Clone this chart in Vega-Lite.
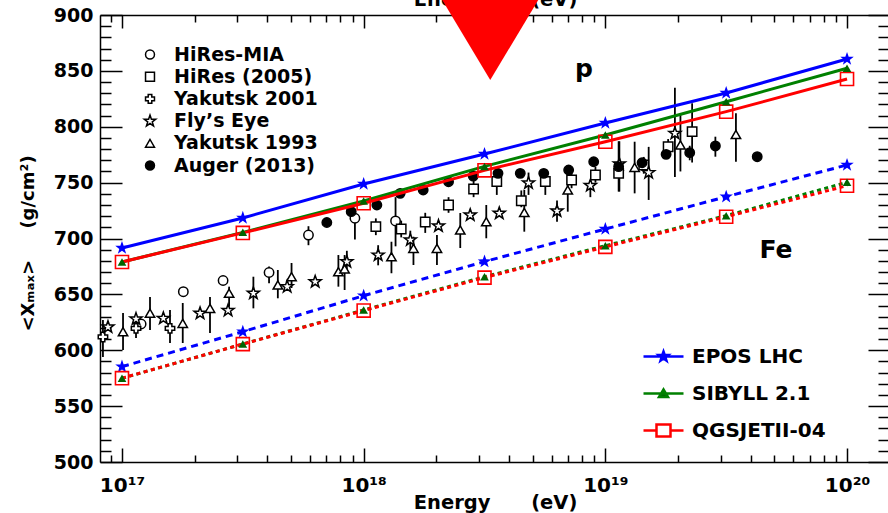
{
  "$schema": "https://vega.github.io/schema/vega-lite/v6.json",
  "width": 790,
  "height": 447,
  "autosize": {"type": "none"},
  "padding": {"left": 100, "top": 15, "right": 0, "bottom": 51},
  "background": "white",
  "config": {
    "view": {"stroke": null},
    "font": "DejaVu Sans",
    "axis": {
      "grid": false,
      "domainColor": "black",
      "domainWidth": 1.5,
      "tickColor": "black",
      "tickWidth": 1.5,
      "labelColor": "black",
      "titleColor": "black",
      "labelFont": "DejaVu Sans",
      "labelFontWeight": "bold",
      "titleFont": "DejaVu Sans",
      "titleFontWeight": "bold"
    }
  },
  "datasets": {
    "obs": [
      {"dataset": "HiRes-MIA", "E": 1.2e17, "Xmax": 623.5},
      {"dataset": "HiRes-MIA", "E": 1.794e17, "Xmax": 652.4},
      {"dataset": "HiRes-MIA", "E": 2.62e17, "Xmax": 662.4},
      {"dataset": "HiRes-MIA", "E": 4.06e17, "Xmax": 669.6, "lo": 660, "hi": 675},
      {"dataset": "HiRes-MIA", "E": 5.91e17, "Xmax": 703.1, "lo": 694, "hi": 711},
      {"dataset": "HiRes-MIA", "E": 9.2e17, "Xmax": 718.1, "lo": 699, "hi": 726},
      {"dataset": "HiRes-MIA", "E": 1.355e18, "Xmax": 715.7, "lo": 693, "hi": 737},
      {"dataset": "HiRes (2005)", "E": 1.123e18, "Xmax": 710.6, "lo": 703, "hi": 718},
      {"dataset": "HiRes (2005)", "E": 1.43e18, "Xmax": 708.5, "lo": 701, "hi": 716},
      {"dataset": "HiRes (2005)", "E": 1.798e18, "Xmax": 714.8, "lo": 705, "hi": 723},
      {"dataset": "HiRes (2005)", "E": 2.245e18, "Xmax": 730.0, "lo": 723, "hi": 737},
      {"dataset": "HiRes (2005)", "E": 2.85e18, "Xmax": 744.3, "lo": 737, "hi": 752},
      {"dataset": "HiRes (2005)", "E": 3.555e18, "Xmax": 751.0, "lo": 739, "hi": 760},
      {"dataset": "HiRes (2005)", "E": 4.49e18, "Xmax": 733.8, "lo": 728, "hi": 743},
      {"dataset": "HiRes (2005)", "E": 5.645e18, "Xmax": 751.0, "lo": 739, "hi": 760},
      {"dataset": "HiRes (2005)", "E": 7.25e18, "Xmax": 752.3, "lo": 745, "hi": 760},
      {"dataset": "HiRes (2005)", "E": 9.1e18, "Xmax": 756.8, "lo": 750, "hi": 764},
      {"dataset": "HiRes (2005)", "E": 1.135e19, "Xmax": 758.3, "lo": 742, "hi": 787},
      {"dataset": "HiRes (2005)", "E": 1.442e19, "Xmax": 765.8, "lo": 758, "hi": 773},
      {"dataset": "HiRes (2005)", "E": 1.819e19, "Xmax": 782.1, "lo": 775, "hi": 789},
      {"dataset": "HiRes (2005)", "E": 2.286e19, "Xmax": 795.6, "lo": 768, "hi": 821},
      {"dataset": "Yakutsk 2001", "E": 8.34e16, "Xmax": 611.9, "lo": 594, "hi": 627},
      {"dataset": "Yakutsk 2001", "E": 1.143e17, "Xmax": 619.6, "lo": 611, "hi": 632},
      {"dataset": "Yakutsk 2001", "E": 1.58e17, "Xmax": 619.6, "lo": 606.5, "hi": 636},
      {"dataset": "Fly’s Eye", "E": 8.75e16, "Xmax": 620.8},
      {"dataset": "Fly’s Eye", "E": 1.143e17, "Xmax": 628.0},
      {"dataset": "Fly’s Eye", "E": 1.483e17, "Xmax": 628.6},
      {"dataset": "Fly’s Eye", "E": 2.104e17, "Xmax": 633.1},
      {"dataset": "Fly’s Eye", "E": 2.748e17, "Xmax": 635.6},
      {"dataset": "Fly’s Eye", "E": 3.497e17, "Xmax": 651.0, "lo": 637.5, "hi": 665.8},
      {"dataset": "Fly’s Eye", "E": 4.824e17, "Xmax": 656.9},
      {"dataset": "Fly’s Eye", "E": 6.3e17, "Xmax": 661.3},
      {"dataset": "Fly’s Eye", "E": 8.52e17, "Xmax": 679.2, "lo": 670, "hi": 689},
      {"dataset": "Fly’s Eye", "E": 1.148e18, "Xmax": 685.2, "lo": 676, "hi": 694},
      {"dataset": "Fly’s Eye", "E": 1.56e18, "Xmax": 698.7, "lo": 690, "hi": 707},
      {"dataset": "Fly’s Eye", "E": 2.04e18, "Xmax": 711.2},
      {"dataset": "Fly’s Eye", "E": 2.76e18, "Xmax": 721.0},
      {"dataset": "Fly’s Eye", "E": 3.64e18, "Xmax": 722.6},
      {"dataset": "Fly’s Eye", "E": 4.81e18, "Xmax": 749.7, "lo": 739, "hi": 759},
      {"dataset": "Fly’s Eye", "E": 6.31e18, "Xmax": 724.6, "lo": 715, "hi": 734},
      {"dataset": "Fly’s Eye", "E": 8.67e18, "Xmax": 747.4, "lo": 737, "hi": 752},
      {"dataset": "Fly’s Eye", "E": 1.143e19, "Xmax": 766.7, "lo": 742, "hi": 787},
      {"dataset": "Fly’s Eye", "E": 1.511e19, "Xmax": 758.9, "lo": 734.5, "hi": 782},
      {"dataset": "Fly’s Eye", "E": 1.94e19, "Xmax": 794.1, "lo": 755, "hi": 835},
      {"dataset": "Yakutsk 1993", "E": 1.01e17, "Xmax": 616.6, "lo": 600.2, "hi": 633.3},
      {"dataset": "Yakutsk 1993", "E": 1.306e17, "Xmax": 633.1, "lo": 618.1, "hi": 647.7},
      {"dataset": "Yakutsk 1993", "E": 1.784e17, "Xmax": 624.1, "lo": 606.5, "hi": 642.3},
      {"dataset": "Yakutsk 1993", "E": 2.313e17, "Xmax": 637.5, "lo": 615.4, "hi": 647.7},
      {"dataset": "Yakutsk 1993", "E": 2.775e17, "Xmax": 651.0, "lo": 639, "hi": 656.9},
      {"dataset": "Yakutsk 1993", "E": 4.414e17, "Xmax": 658.4, "lo": 646.5, "hi": 671.8},
      {"dataset": "Yakutsk 1993", "E": 5.03e17, "Xmax": 665.8, "lo": 655.7, "hi": 678.1},
      {"dataset": "Yakutsk 1993", "E": 7.86e17, "Xmax": 670.3, "lo": 656.9, "hi": 685.2},
      {"dataset": "Yakutsk 1993", "E": 8.34e17, "Xmax": 672.7, "lo": 653.9, "hi": 685.2},
      {"dataset": "Yakutsk 1993", "E": 1.303e18, "Xmax": 683.7, "lo": 668.9, "hi": 697.1},
      {"dataset": "Yakutsk 1993", "E": 1.607e18, "Xmax": 691.2, "lo": 676.3, "hi": 701.6},
      {"dataset": "Yakutsk 1993", "E": 2.01e18, "Xmax": 691.2, "lo": 676.3, "hi": 703.1},
      {"dataset": "Yakutsk 1993", "E": 2.51e18, "Xmax": 707.6, "lo": 691.5, "hi": 722.8},
      {"dataset": "Yakutsk 1993", "E": 3.216e18, "Xmax": 715.0, "lo": 700.2, "hi": 730},
      {"dataset": "Yakutsk 1993", "E": 4.62e18, "Xmax": 723.3, "lo": 706.1, "hi": 743.4},
      {"dataset": "Yakutsk 1993", "E": 6.99e18, "Xmax": 743.4, "lo": 724, "hi": 764.3},
      {"dataset": "Yakutsk 1993", "E": 1.322e19, "Xmax": 763.7, "lo": 740.4, "hi": 786.6},
      {"dataset": "Yakutsk 1993", "E": 2.045e19, "Xmax": 783.7, "lo": 760, "hi": 812},
      {"dataset": "Yakutsk 1993", "E": 3.47e19, "Xmax": 793.1, "lo": 768.7, "hi": 812},
      {"dataset": "Auger (2013)", "E": 7.04e17, "Xmax": 714.3},
      {"dataset": "Auger (2013)", "E": 8.88e17, "Xmax": 724.0},
      {"dataset": "Auger (2013)", "E": 1.134e18, "Xmax": 730.0},
      {"dataset": "Auger (2013)", "E": 1.416e18, "Xmax": 740.4},
      {"dataset": "Auger (2013)", "E": 1.763e18, "Xmax": 743.4},
      {"dataset": "Auger (2013)", "E": 2.245e18, "Xmax": 750.8},
      {"dataset": "Auger (2013)", "E": 2.84e18, "Xmax": 755.9},
      {"dataset": "Auger (2013)", "E": 3.596e18, "Xmax": 758.3},
      {"dataset": "Auger (2013)", "E": 4.446e18, "Xmax": 758.3},
      {"dataset": "Auger (2013)", "E": 5.56e18, "Xmax": 758.3},
      {"dataset": "Auger (2013)", "E": 7.05e18, "Xmax": 761.3},
      {"dataset": "Auger (2013)", "E": 8.95e18, "Xmax": 768.7},
      {"dataset": "Auger (2013)", "E": 1.135e19, "Xmax": 764.3},
      {"dataset": "Auger (2013)", "E": 1.419e19, "Xmax": 767.8},
      {"dataset": "Auger (2013)", "E": 1.784e19, "Xmax": 775.3},
      {"dataset": "Auger (2013)", "E": 2.234e19, "Xmax": 776.8, "lo": 770, "hi": 783},
      {"dataset": "Auger (2013)", "E": 2.853e19, "Xmax": 782.8, "lo": 773.2, "hi": 791.1},
      {"dataset": "Auger (2013)", "E": 4.25e19, "Xmax": 773.2}
    ],
    "models": [
      {"model": "EPOS LHC", "comp": "p", "E": 1e17, "Xmax": 691.5},
      {"model": "EPOS LHC", "comp": "p", "E": 3.1623e17, "Xmax": 718.4},
      {"model": "EPOS LHC", "comp": "p", "E": 1e18, "Xmax": 748.8},
      {"model": "EPOS LHC", "comp": "p", "E": 3.1623e18, "Xmax": 775.6},
      {"model": "EPOS LHC", "comp": "p", "E": 1e19, "Xmax": 803.4},
      {"model": "EPOS LHC", "comp": "p", "E": 3.1623e19, "Xmax": 830.2},
      {"model": "EPOS LHC", "comp": "p", "E": 1e20, "Xmax": 860.6},
      {"model": "SIBYLL 2.1", "comp": "p", "E": 1e17, "Xmax": 679.0},
      {"model": "SIBYLL 2.1", "comp": "p", "E": 3.1623e17, "Xmax": 705.5},
      {"model": "SIBYLL 2.1", "comp": "p", "E": 1e18, "Xmax": 733.5},
      {"model": "SIBYLL 2.1", "comp": "p", "E": 3.1623e18, "Xmax": 764.5},
      {"model": "SIBYLL 2.1", "comp": "p", "E": 1e19, "Xmax": 792.6},
      {"model": "SIBYLL 2.1", "comp": "p", "E": 3.1623e19, "Xmax": 822.4},
      {"model": "SIBYLL 2.1", "comp": "p", "E": 1e20, "Xmax": 852.3},
      {"model": "QGSJETII-04", "comp": "p", "E": 1e17, "Xmax": 679.0},
      {"model": "QGSJETII-04", "comp": "p", "E": 3.1623e17, "Xmax": 705.0},
      {"model": "QGSJETII-04", "comp": "p", "E": 1e18, "Xmax": 731.5},
      {"model": "QGSJETII-04", "comp": "p", "E": 3.1623e18, "Xmax": 761.0},
      {"model": "QGSJETII-04", "comp": "p", "E": 1e19, "Xmax": 786.6},
      {"model": "QGSJETII-04", "comp": "p", "E": 3.1623e19, "Xmax": 813.5},
      {"model": "QGSJETII-04", "comp": "p", "E": 1e20, "Xmax": 842.7},
      {"model": "EPOS LHC", "comp": "Fe", "E": 1e17, "Xmax": 585.3},
      {"model": "EPOS LHC", "comp": "Fe", "E": 3.1623e17, "Xmax": 616.6},
      {"model": "EPOS LHC", "comp": "Fe", "E": 1e18, "Xmax": 648.8},
      {"model": "EPOS LHC", "comp": "Fe", "E": 3.1623e18, "Xmax": 679.3},
      {"model": "EPOS LHC", "comp": "Fe", "E": 1e19, "Xmax": 708.5},
      {"model": "EPOS LHC", "comp": "Fe", "E": 3.1623e19, "Xmax": 737.4},
      {"model": "EPOS LHC", "comp": "Fe", "E": 1e20, "Xmax": 765.8},
      {"model": "SIBYLL 2.1", "comp": "Fe", "E": 1e17, "Xmax": 574.9},
      {"model": "SIBYLL 2.1", "comp": "Fe", "E": 3.1623e17, "Xmax": 605.6},
      {"model": "SIBYLL 2.1", "comp": "Fe", "E": 1e18, "Xmax": 636.0},
      {"model": "SIBYLL 2.1", "comp": "Fe", "E": 3.1623e18, "Xmax": 665.8},
      {"model": "SIBYLL 2.1", "comp": "Fe", "E": 1e19, "Xmax": 693.6},
      {"model": "SIBYLL 2.1", "comp": "Fe", "E": 3.1623e19, "Xmax": 720.4},
      {"model": "SIBYLL 2.1", "comp": "Fe", "E": 1e20, "Xmax": 750.3},
      {"model": "QGSJETII-04", "comp": "Fe", "E": 1e17, "Xmax": 575.0},
      {"model": "QGSJETII-04", "comp": "Fe", "E": 3.1623e17, "Xmax": 605.5},
      {"model": "QGSJETII-04", "comp": "Fe", "E": 1e18, "Xmax": 635.5},
      {"model": "QGSJETII-04", "comp": "Fe", "E": 3.1623e18, "Xmax": 665.0},
      {"model": "QGSJETII-04", "comp": "Fe", "E": 1e19, "Xmax": 692.5},
      {"model": "QGSJETII-04", "comp": "Fe", "E": 3.1623e19, "Xmax": 719.5},
      {"model": "QGSJETII-04", "comp": "Fe", "E": 1e20, "Xmax": 747.2}
    ],
    "notes": [
      {"label": "p", "E": 8.15e18, "Xmax": 844.5},
      {"label": "Fe", "E": 5.08e19, "Xmax": 682.3}
    ],
    "marker": [
      {"E": 3.34e18, "Xmax": 882.1}
    ]
  },
  "layer": [
    {
      "data": {"name": "obs"},
      "transform": [{"filter": "datum.lo != null"}],
      "mark": {"type": "rule", "color": "black", "strokeWidth": 1.8},
      "encoding": {
        "x": {
          "field": "E", "type": "quantitative",
          "scale": {"type": "log", "domain": [8.11e16, 1.506e20], "nice": false},
          "axis": {
            "orient": "bottom",
            "values": [9e16, 1e17, 2e17, 3e17, 4e17, 5e17, 6e17, 7e17, 8e17, 9e17, 1e18, 2e18, 3e18, 4e18, 5e18, 6e18, 7e18, 8e18, 9e18, 1e19, 2e19, 3e19, 4e19, 5e19, 6e19, 7e19, 8e19, 9e19, 1e20],
            "tickSize": {"condition": {"test": "abs(log(datum.value)/LN10 - round(log(datum.value)/LN10)) < 0.001", "value": -14}, "value": -7},
            "labelExpr": "abs(log(datum.value)/LN10 - round(log(datum.value)/LN10)) > 0.001 ? '' : '10' + ['¹⁷','¹⁸','¹⁹','²⁰'][round(log(datum.value)/LN10) - 17]",
            "labelFontSize": 20,
            "labelPadding": 43,
            "labelBaseline": "alphabetic",
            "labelFlush": false,
            "labelOverlap": false,
            "title": "Energy\u00a0\u00a0\u00a0\u00a0\u00a0\u00a0(eV)",
            "titleFontSize": 19.5,
            "titleY": 46,
            "titleBaseline": "alphabetic"
          }
        },
        "y": {
          "field": "lo", "type": "quantitative",
          "scale": {"domain": [500, 900], "nice": false, "zero": false},
          "axis": {
            "orient": "left",
            "values": [500, 510, 520, 530, 540, 550, 560, 570, 580, 590, 600, 610, 620, 630, 640, 650, 660, 670, 680, 690, 700, 710, 720, 730, 740, 750, 760, 770, 780, 790, 800, 810, 820, 830, 840, 850, 860, 870, 880, 890, 900],
            "tickSize": {"condition": {"test": "datum.value % 50 === 0", "value": -22}, "value": -11},
            "labelExpr": "datum.value % 50 === 0 ? datum.label : ''",
            "labelFontSize": 19,
            "labelPadding": 29,
            "labelOverlap": false,
            "title": "<Xₘₐₓ>\u00a0\u00a0\u00a0\u00a0\u00a0(g/cm²)",
            "titleFontSize": 18,
            "titleX": -67,
            "titleY": 228,
            "titleBaseline": "alphabetic"
          }
        },
        "y2": {"field": "hi"}
      }
    },
    {
      "data": {"name": "obs"},
      "mark": {"type": "point", "filled": true, "strokeWidth": 1.5, "size": 88, "opacity": 1},
      "encoding": {
        "x": {
          "field": "E", "type": "quantitative",
          "axis": {
            "orient": "top",
            "values": [9e16, 1e17, 2e17, 3e17, 4e17, 5e17, 6e17, 7e17, 8e17, 9e17, 1e18, 2e18, 3e18, 4e18, 5e18, 6e18, 7e18, 8e18, 9e18, 1e19, 2e19, 3e19, 4e19, 5e19, 6e19, 7e19, 8e19, 9e19, 1e20],
            "tickSize": {"condition": {"test": "abs(log(datum.value)/LN10 - round(log(datum.value)/LN10)) < 0.001", "value": -13}, "value": -7},
            "labels": false,
            "title": "Energy\u00a0\u00a0\u00a0\u00a0\u00a0\u00a0(eV)",
            "titleFontSize": 19.5,
            "titleY": -10,
            "titleBaseline": "alphabetic"
          }
        },
        "y": {
          "field": "Xmax", "type": "quantitative",
          "axis": {
            "orient": "right",
            "values": [500, 510, 520, 530, 540, 550, 560, 570, 580, 590, 600, 610, 620, 630, 640, 650, 660, 670, 680, 690, 700, 710, 720, 730, 740, 750, 760, 770, 780, 790, 800, 810, 820, 830, 840, 850, 860, 870, 880, 890, 900],
            "tickSize": {"condition": {"test": "datum.value % 50 === 0", "value": -22}, "value": -12},
            "labels": false,
            "title": null
          }
        },
        "shape": {
          "field": "dataset", "type": "nominal",
          "scale": {
            "domain": ["HiRes-MIA", "HiRes (2005)", "Yakutsk 2001", "Fly’s Eye", "Yakutsk 1993", "Auger (2013)"],
            "range": ["circle", "square", "cross", "M0,-1.35L0.317,-0.437L1.284,-0.417L0.513,0.167L0.794,1.092L0,0.54L-0.794,1.092L-0.513,0.167L-1.284,-0.417L-0.317,-0.437Z", "triangle-up", "circle"]
          },
          "legend": {
            "title": null, "orient": "none", "legendX": 40.5, "legendY": 30,
            "labelFontSize": 19, "labelFont": "DejaVu Sans", "labelFontWeight": "bold", "labelColor": "black",
            "symbolSize": 80, "symbolStrokeWidth": 1.5,
            "labelOffset": 14.6, "rowPadding": 2.2, "padding": 0
          }
        },
        "fill": {
          "field": "dataset", "type": "nominal",
          "scale": {
            "domain": ["HiRes-MIA", "HiRes (2005)", "Yakutsk 2001", "Fly’s Eye", "Yakutsk 1993", "Auger (2013)"],
            "range": ["white", "white", "white", "white", "white", "black"]
          },
          "legend": {
            "title": null, "orient": "none", "legendX": 40.5, "legendY": 30,
            "labelFontSize": 19, "labelFont": "DejaVu Sans", "labelFontWeight": "bold", "labelColor": "black",
            "symbolSize": 80, "symbolStrokeWidth": 1.5,
            "labelOffset": 14.6, "rowPadding": 2.2, "padding": 0
          }
        },
        "stroke": {
          "field": "dataset", "type": "nominal",
          "scale": {
            "domain": ["HiRes-MIA", "HiRes (2005)", "Yakutsk 2001", "Fly’s Eye", "Yakutsk 1993", "Auger (2013)"],
            "range": ["black", "black", "black", "black", "black", "black"]
          },
          "legend": {
            "title": null, "orient": "none", "legendX": 40.5, "legendY": 30,
            "labelFontSize": 19, "labelFont": "DejaVu Sans", "labelFontWeight": "bold", "labelColor": "black",
            "symbolSize": 80, "symbolStrokeWidth": 1.5,
            "labelOffset": 14.6, "rowPadding": 2.2, "padding": 0
          }
        }
      }
    },
    {
      "data": {"name": "models"},
      "transform": [{"filter": "datum.comp === 'p'"}],
      "mark": {"type": "line", "strokeWidth": 3},
      "encoding": {
        "x": {"field": "E", "type": "quantitative", "axis": null},
        "y": {"field": "Xmax", "type": "quantitative", "axis": null},
        "color": {
          "field": "model", "type": "nominal",
          "scale": {"domain": ["EPOS LHC", "SIBYLL 2.1", "QGSJETII-04"], "range": ["#0000ff", "#008000", "#ff0000"]},
          "legend": {
            "title": null, "orient": "none", "legendX": 552, "legendY": 330,
            "symbolSize": 400, "labelOffset": 17, "rowPadding": 15,
            "labelFontSize": 20, "labelFont": "DejaVu Sans", "labelFontWeight": "bold", "labelColor": "black",
            "padding": 0, "symbolStrokeWidth": 2.5,
            "encode": {
              "symbols": {
                "update": {
                  "shape": {"signal": "datum.value === 'EPOS LHC' ? 'M-2,0H2M0,-0.5L0.118,-0.162L0.476,-0.155L0.19,0.062L0.294,0.405L0,0.2L-0.294,0.405L-0.19,0.062L-0.476,-0.155L-0.118,-0.162Z' : datum.value === 'SIBYLL 2.1' ? 'M-2,0H2M-0.45,0.35L0.45,0.35L0,-0.4Z' : 'M-2,0H-0.7M0.7,0H2M-0.7,-0.6H0.7V0.6H-0.7Z'"},
                  "fill": {"signal": "datum.value === 'EPOS LHC' ? '#0000ff' : datum.value === 'SIBYLL 2.1' ? '#006400' : 'transparent'"},
                  "stroke": {"signal": "datum.value === 'EPOS LHC' ? '#0000ff' : datum.value === 'SIBYLL 2.1' ? '#008000' : '#ff0000'"},
                  "strokeWidth": {"value": 2.5},
                  "opacity": {"value": 1}
                }
              }
            }
          }
        }
      }
    },
    {
      "data": {"name": "models"},
      "transform": [{"filter": "datum.comp === 'Fe' && datum.model === 'EPOS LHC'"}],
      "mark": {"type": "line", "strokeWidth": 3, "strokeDash": [7, 5]},
      "encoding": {
        "x": {"field": "E", "type": "quantitative", "axis": null},
        "y": {"field": "Xmax", "type": "quantitative", "axis": null},
        "color": {"field": "model", "type": "nominal"}
      }
    },
    {
      "data": {"name": "models"},
      "transform": [{"filter": "datum.comp === 'Fe' && datum.model !== 'EPOS LHC'"}],
      "mark": {"type": "line", "strokeWidth": 3, "strokeDash": [4, 3.5]},
      "encoding": {
        "x": {"field": "E", "type": "quantitative", "axis": null},
        "y": {"field": "Xmax", "type": "quantitative", "axis": null},
        "color": {"field": "model", "type": "nominal"}
      }
    },
    {
      "data": {"name": "models"},
      "transform": [{"filter": "datum.model === 'EPOS LHC'"}],
      "mark": {"type": "point", "shape": "M0,-1L0.235,-0.324L0.951,-0.309L0.38,0.124L0.588,0.809L0,0.4L-0.588,0.809L-0.38,0.124L-0.951,-0.309L-0.235,-0.324Z", "filled": true, "color": "#0000ff", "size": 200, "opacity": 1},
      "encoding": {
        "x": {"field": "E", "type": "quantitative", "axis": null},
        "y": {"field": "Xmax", "type": "quantitative", "axis": null}
      }
    },
    {
      "data": {"name": "models"},
      "transform": [{"filter": "datum.model === 'QGSJETII-04'"}],
      "mark": {"type": "point", "shape": "square", "filled": false, "color": "#ff0000", "strokeWidth": 1.6, "size": 170, "opacity": 1},
      "encoding": {
        "x": {"field": "E", "type": "quantitative", "axis": null},
        "y": {"field": "Xmax", "type": "quantitative", "axis": null}
      }
    },
    {
      "data": {"name": "models"},
      "transform": [{"filter": "datum.model === 'SIBYLL 2.1'"}],
      "mark": {"type": "point", "shape": "triangle-up", "filled": true, "color": "#006400", "size": 75, "opacity": 1},
      "encoding": {
        "x": {"field": "E", "type": "quantitative", "axis": null},
        "y": {"field": "Xmax", "type": "quantitative", "axis": null}
      }
    },
    {
      "data": {"name": "notes"},
      "mark": {"type": "text", "font": "DejaVu Sans", "fontWeight": "bold", "fontSize": 25, "baseline": "alphabetic", "align": "center", "color": "black"},
      "encoding": {
        "x": {"field": "E", "type": "quantitative", "axis": null},
        "y": {"field": "Xmax", "type": "quantitative", "axis": null},
        "text": {"field": "label"}
      }
    },
    {
      "data": {"name": "marker"},
      "mark": {"type": "point", "shape": "M-1.2,-1L1.2,-1L0,1Z", "filled": true, "color": "#ff0000", "size": 8100, "opacity": 1},
      "encoding": {
        "x": {"field": "E", "type": "quantitative", "axis": null},
        "y": {"field": "Xmax", "type": "quantitative", "axis": null}
      }
    }
  ],
  "resolve": {"axis": {"x": "independent", "y": "independent"}}
}
